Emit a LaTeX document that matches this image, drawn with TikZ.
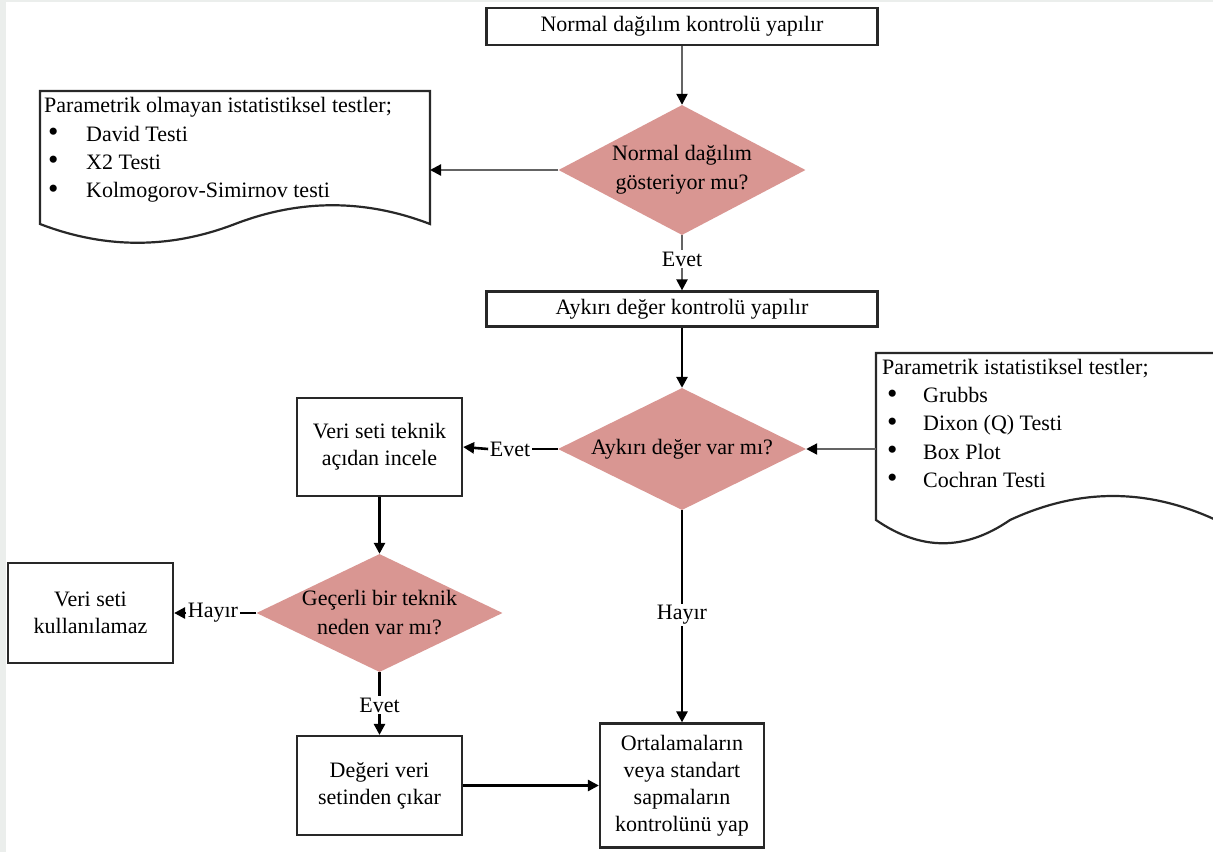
\documentclass[tikz,border=0pt]{standalone}
\usepackage{fontspec}
\setmainfont{Liberation Serif}
\usetikzlibrary{shapes.geometric,arrows.meta}
\definecolor{decfill}{RGB}{217,150,146}
\definecolor{framegray}{RGB}{235,238,236}
\definecolor{edge}{RGB}{40,40,40}
\definecolor{thinline}{RGB}{100,100,100}

% enlarged list bullet, kept out of the line height
\newcommand{\blt}{\smash{\raisebox{-0.5pt}{\scalebox{1.35}{\textbullet}}}}

\begin{document}
\begin{tikzpicture}[x=1pt,y=-1pt,
  txt/.style={font=\fontsize{22}{27}\selectfont},
  box/.style={txt,draw=edge,line width=2.2pt,fill=white,align=center,inner sep=2pt},
  decision/.style={diamond,fill=decfill,draw=none,inner sep=0pt},
  dtext/.style={txt,align=center,inner sep=0pt,font=\fontsize{22}{29}\selectfont},
  lbl/.style={txt,inner sep=1.5pt},
  doc/.style={draw=edge,line width=2.2pt,fill=white},
  doctext/.style={anchor=north west,inner sep=0pt,align=left,font=\fontsize{22}{28.2}\selectfont},
  tip/.style={-{Triangle[length=11pt,width=11pt,color=black]}},
  arr/.style={tip,line width=2.6pt,draw=black},
  thinarr/.style={tip,line width=2.2pt,draw=thinline},
  thinln/.style={line width=2.2pt,draw=thinline},
  ln/.style={line width=2.6pt,draw=black}
]
% page and its grey frame
\useasboundingbox (0,0) rectangle (1213,852);
\clip (0,0) rectangle (1213,852);
\fill[framegray] (0,0) rectangle (1213,852);
\fill[white] (6,2) rectangle (1213,852);

% process boxes
\node[box,minimum width=391pt,minimum height=37pt] (b1) at (682,26.5) {Normal dağılım kontrolü yapılır};
\node[box,minimum width=391pt,minimum height=35pt] (b2) at (682,309) {Aykırı değer kontrolü yapılır};
\node[box,minimum width=165pt,minimum height=98pt] (b3) at (379.5,447) {Veri seti teknik\\açıdan incele};
\node[box,minimum width=165pt,minimum height=100pt] (b4) at (90.5,613) {Veri seti\\kullanılamaz};
\node[box,minimum width=165pt,minimum height=99pt] (b5) at (379.5,785.5) {Değeri veri\\setinden çıkar};
\node[box,minimum width=164pt,minimum height=124pt] (b6) at (682,785.5) {Ortalamaların\\veya standart\\sapmaların\\kontrolünü yap};

% decisions
\node[decision,minimum width=247pt,minimum height=130pt] (d1) at (682,170) {};
\node[dtext] (d1t) at (d1.center) {Normal dağılım\\gösteriyor mu?};
\node[decision,minimum width=248pt,minimum height=122pt] (d2) at (682,449) {};
\node[dtext] (d2t) at (d2.center) {Aykırı değer var mı?};
\node[decision,minimum width=246pt,minimum height=118pt] (d3) at (379.5,613) {};
\node[dtext] (d3t) at (d3.center) {Geçerli bir teknik\\neden var mı?};

% documents listing the tests
\draw[doc] (40,91) -- (430,91) -- (430,224)
  .. controls (365,199) and (300,199) .. (235,224)
  .. controls (170,249) and (105,249) .. (40,224) -- cycle;
\node[doctext] (doc1t) at (44,97.5) {Parametrik olmayan istatistiksel testler;\\
  \hspace*{4pt}\makebox[38pt][l]{\blt}David Testi\\
  \hspace*{4pt}\makebox[38pt][l]{\blt}X2 Testi\\
  \hspace*{4pt}\makebox[38pt][l]{\blt}Kolmogorov-Simirnov testi};
\coordinate (doc1e) at (430,170);

\draw[doc] (876,353) -- (1216,353) -- (1216,520)
  .. controls (1147,488) and (1079,488) .. (1010,520)
  .. controls (965,551) and (921,551) .. (876,520) -- cycle;
\node[doctext] (doc2t) at (882,359) {Parametrik istatistiksel testler;\\
  \hspace*{5pt}\makebox[36pt][l]{\blt}Grubbs\\
  \hspace*{5pt}\makebox[36pt][l]{\blt}Dixon (Q) Testi\\
  \hspace*{5pt}\makebox[36pt][l]{\blt}Box Plot\\
  \hspace*{5pt}\makebox[36pt][l]{\blt}Cochran Testi};
\coordinate (doc2w) at (876,449);

% branch labels
\node[lbl] (e1) at (682,259) {Evet};
\node[lbl] (e2) at (510,449) {Evet};
\node[lbl] (h1) at (213,613) {Hayır};
\node[lbl] (e3) at (379.5,705) {Evet};
\node[lbl] (h2) at (682,615) {Hayır};

% connectors
\draw[thinarr] (b1.south) -- (d1.north);
\draw[thinarr] (d1.west) -- (doc1e);
\draw[thinln] (d1.south) -- (e1.north);
\draw[thinarr] (e1.south) -- (b2.north);
\draw[arr] (b2.south) -- (d2.north);
\draw[thinarr] (doc2w) -- (d2.east);
\draw[ln] (d2.west) -- (e2.east);
\draw[arr] (e2.west) -- (b3.east);
\draw[arr] (b3.south) -- (d3.north);
\draw[ln] (d3.west) -- (h1.east);
\draw[arr] (h1.west) -- (b4.east);
\draw[ln] (d3.south) -- (e3.north);
\draw[arr] (e3.south) -- (b5.north);
\draw[ln] (d2.south) -- (h2.north);
\draw[arr] (h2.south) -- (b6.north);
\draw[arr] (b5.east) -- (b6.west);
\end{tikzpicture}
\end{document}
